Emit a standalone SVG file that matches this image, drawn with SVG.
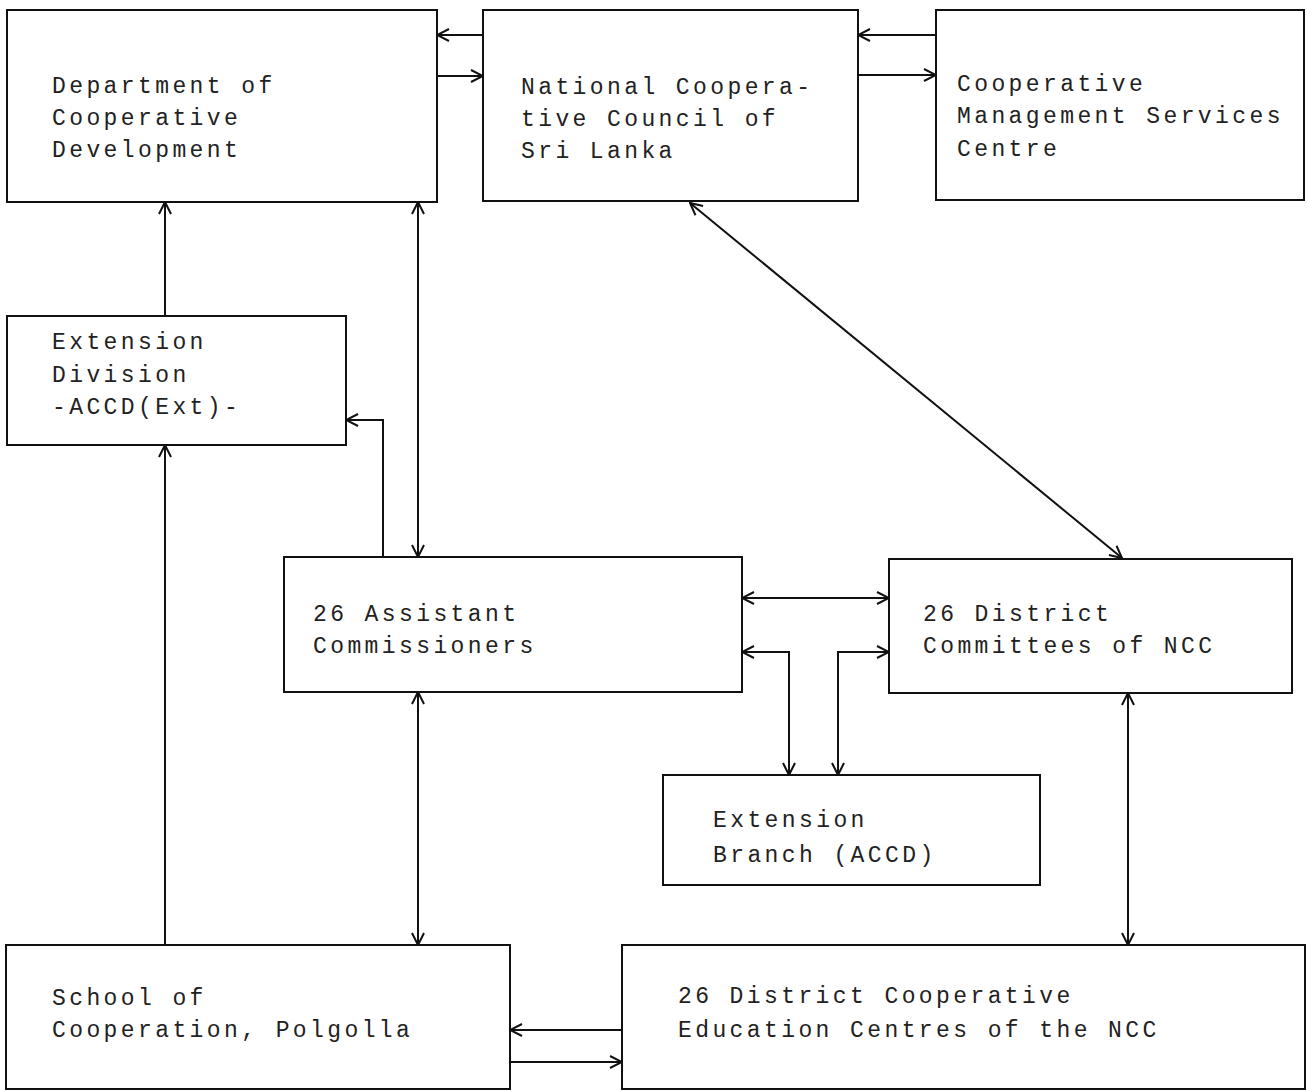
<svg xmlns="http://www.w3.org/2000/svg" width="1307" height="1091" viewBox="0 0 1307 1091">
<style>
.box{fill:#fff;stroke:#111;stroke-width:2}
.t{font-family:"Liberation Mono","DejaVu Sans Mono",monospace;font-size:23px;letter-spacing:3.4px;fill:#222}
.c{fill:none;stroke:#111;stroke-width:2}
</style>
<defs>
<marker id="ah" viewBox="0 0 14 14" refX="13" refY="7" markerWidth="14" markerHeight="14" markerUnits="userSpaceOnUse" orient="auto-start-reverse">
<path d="M1,1 L13,7 L1,13" fill="none" stroke="#111" stroke-width="2"/>
</marker>
</defs>
<rect width="1307" height="1091" fill="#fff"/>
<g id="connectors">
<line class="c" x1="483" y1="35" x2="437" y2="35" marker-end="url(#ah)"/>
<line class="c" x1="437" y1="76" x2="483" y2="76" marker-end="url(#ah)"/>
<line class="c" x1="936" y1="35" x2="858" y2="35" marker-end="url(#ah)"/>
<line class="c" x1="858" y1="75" x2="936" y2="75" marker-end="url(#ah)"/>
<line class="c" x1="165" y1="316" x2="165" y2="202" marker-end="url(#ah)"/>
<line class="c" x1="165" y1="945" x2="165" y2="445" marker-end="url(#ah)"/>
<line class="c" x1="418" y1="202" x2="418" y2="557" marker-start="url(#ah)" marker-end="url(#ah)"/>
<path class="c" d="M383,557 L383,420 L346,420" marker-end="url(#ah)"/>
<line class="c" x1="690" y1="203" x2="1122" y2="558" marker-start="url(#ah)" marker-end="url(#ah)"/>
<line class="c" x1="742" y1="598" x2="889" y2="598" marker-start="url(#ah)" marker-end="url(#ah)"/>
<path class="c" d="M789,775 L789,652 L742,652" marker-start="url(#ah)" marker-end="url(#ah)"/>
<path class="c" d="M838,775 L838,652 L889,652" marker-start="url(#ah)" marker-end="url(#ah)"/>
<line class="c" x1="418" y1="692" x2="418" y2="945" marker-start="url(#ah)" marker-end="url(#ah)"/>
<line class="c" x1="1128" y1="693" x2="1128" y2="945" marker-start="url(#ah)" marker-end="url(#ah)"/>
<line class="c" x1="622" y1="1030" x2="510" y2="1030" marker-end="url(#ah)"/>
<line class="c" x1="510" y1="1062" x2="622" y2="1062" marker-end="url(#ah)"/>
</g>
<g id="dept">
<rect class="box" x="7" y="10" width="430" height="192"/>
<text class="t" x="52" y="93">Department of</text>
<text class="t" x="52" y="125">Cooperative</text>
<text class="t" x="52" y="157">Development</text>
</g>
<g id="ncc">
<rect class="box" x="483" y="10" width="375" height="191"/>
<text class="t" x="521" y="94">National Coopera-</text>
<text class="t" x="521" y="126">tive Council of</text>
<text class="t" x="521" y="158">Sri Lanka</text>
</g>
<g id="cmsc">
<rect class="box" x="936" y="10" width="368" height="190"/>
<text class="t" x="957" y="91">Cooperative</text>
<text class="t" x="957" y="123">Management Services</text>
<text class="t" x="957" y="156">Centre</text>
</g>
<g id="extdiv">
<rect class="box" x="7" y="316" width="339" height="129"/>
<text class="t" x="52" y="349">Extension</text>
<text class="t" x="52" y="382">Division</text>
<text class="t" x="52" y="414">-ACCD(Ext)-</text>
</g>
<g id="ac">
<rect class="box" x="284" y="557" width="458" height="135"/>
<text class="t" x="313" y="621">26 Assistant</text>
<text class="t" x="313" y="653">Commissioners</text>
</g>
<g id="dc">
<rect class="box" x="889" y="559" width="403" height="134"/>
<text class="t" x="923" y="621">26 District</text>
<text class="t" x="923" y="653">Committees of NCC</text>
</g>
<g id="extbranch">
<rect class="box" x="663" y="775" width="377" height="110"/>
<text class="t" x="713" y="827">Extension</text>
<text class="t" x="713" y="862">Branch (ACCD)</text>
</g>
<g id="school">
<rect class="box" x="6" y="945" width="504" height="144"/>
<text class="t" x="52" y="1005">School of</text>
<text class="t" x="52" y="1037">Cooperation, Polgolla</text>
</g>
<g id="dcec">
<rect class="box" x="622" y="945" width="683" height="144"/>
<text class="t" x="678" y="1003">26 District Cooperative</text>
<text class="t" x="678" y="1037">Education Centres of the NCC</text>
</g>
</svg>
